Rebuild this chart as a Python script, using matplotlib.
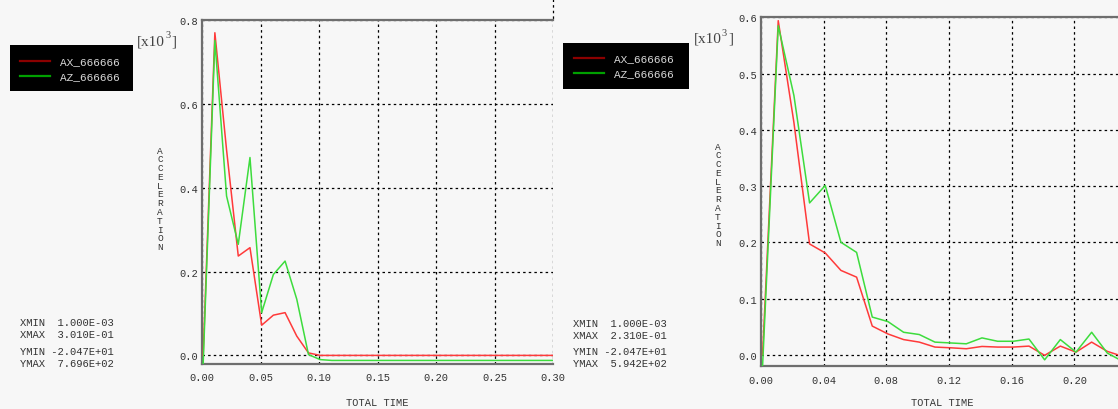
import matplotlib
matplotlib.use("Agg")
import matplotlib.pyplot as plt
from matplotlib.lines import Line2D
from matplotlib.patches import Rectangle

# ---------------- data ----------------
series_names = ["AX_666666", "AZ_666666"]

# Left chart (values in x10^3)
left_time = [0.001 + 0.01 * i for i in range(31)]
left_ax = [0.0, 0.7696, 0.49, 0.237, 0.257, 0.072, 0.096, 0.102, 0.046, 0.006,
           0.0, 0.0, 0.0, 0.0, 0.0, 0.0, 0.0, 0.0, 0.0, 0.0,
           0.0, 0.0, 0.0, 0.0, 0.0, 0.0, 0.0, 0.0, 0.0, 0.0, 0.0]
left_az = [-0.0205, 0.751, 0.380, 0.265, 0.472, 0.102, 0.193, 0.225, 0.134, 0.002,
           -0.010, -0.012, -0.012, -0.012, -0.012, -0.012, -0.012, -0.012, -0.012, -0.012,
           -0.012, -0.012, -0.012, -0.012, -0.012, -0.012, -0.012, -0.012, -0.012, -0.012, -0.012]
left_xticks = [0.00, 0.05, 0.10, 0.15, 0.20, 0.25, 0.30]
left_yticks = [0.0, 0.2, 0.4, 0.6, 0.8]
left_info = ["XMIN  1.000E-03", "XMAX  3.010E-01", "YMIN -2.047E+01", "YMAX  7.696E+02"]

# Right chart (values in x10^3)
right_time = [0.001 + 0.01 * i for i in range(24)]
right_ax = [0.0, 0.594, 0.413, 0.197, 0.181, 0.150, 0.138, 0.051, 0.037, 0.027,
            0.0225, 0.0137, 0.0124, 0.0107, 0.0148, 0.0137, 0.0137, 0.0154, -0.001, 0.0154,
            0.0047, 0.0225, 0.006, -0.003]
right_az = [-0.0205, 0.585, 0.461, 0.270, 0.301, 0.200, 0.182, 0.067, 0.059, 0.040,
            0.036, 0.0225, 0.021, 0.0195, 0.030, 0.024, 0.024, 0.028, -0.009, 0.027,
            0.0047, 0.040, 0.003, -0.012]
right_xticks = [0.00, 0.04, 0.08, 0.12, 0.16, 0.20]
right_yticks = [0.0, 0.1, 0.2, 0.3, 0.4, 0.5, 0.6]
right_info = ["XMIN  1.000E-03", "XMAX  2.310E-01", "YMIN -2.047E+01", "YMAX  5.942E+02"]

# ---------------- style ----------------
W, H = 1118, 410
BG = "#f7f7f7"
MONO = "Liberation Mono"
TXT = "#333333"
RED_LINE = "#ff3a3a"
GRN_LINE = "#3ddc3d"
RED_LEG = "#8b0000"
GRN_LEG = "#00a000"

fig = plt.figure(figsize=(W / 100, H / 100), dpi=100, facecolor=BG)


def fx(px):
    return px / W


def fy(py):
    return 1 - py / H


def make_panel(rect_px, xlim, ylim, xticks, yticks, xfmt, yfmt, t, ax_vals, az_vals):
    x0, y0, x1, y1 = rect_px
    ax = fig.add_axes([fx(x0), fy(y1), fx(x1) - fx(x0), fy(y0) - fy(y1)])
    ax.set_facecolor(BG)
    ax.plot(t, ax_vals, color=RED_LINE, lw=1.1, zorder=3)
    ax.plot(t, az_vals, color=GRN_LINE, lw=1.1, zorder=3)
    ax.set_xlim(*xlim)
    ax.set_ylim(*ylim)
    ax.set_xticks(xticks)
    ax.set_yticks(yticks)
    ax.set_xticklabels([xfmt.format(v) for v in xticks])
    ax.set_yticklabels([yfmt.format(v) for v in yticks])
    ax.tick_params(length=0, labelsize=7.5, labelcolor=TXT)
    ax.tick_params(axis="x", pad=6)
    ax.tick_params(axis="y", pad=3)
    for lab in ax.get_xticklabels() + ax.get_yticklabels():
        lab.set_fontfamily(MONO)
    ax.grid(True, color="black", lw=0.9, linestyle=(0, (2, 2.5)))
    for s in ["left", "top", "bottom"]:
        ax.spines[s].set_color("#6e6e6e")
        ax.spines[s].set_linewidth(1.6)
    ax.spines["right"].set_visible(False)
    return ax


axL = make_panel((202, 21, 553, 365), (0, 0.30), (-0.0205, 0.8),
                 left_xticks, left_yticks, "{:.2f}", "{:.1f}",
                 left_time, left_ax, left_az)
axR = make_panel((761, 18.3, 1123, 367.3), (0, 0.231), (-0.0205, 0.6),
                 right_xticks, right_yticks, "{:.2f}", "{:.1f}",
                 right_time, right_ax, right_az)

# dashed continuation above left panel's right edge
fig.add_artist(Line2D([fx(553), fx(553)], [fy(0), fy(21)], color="black", lw=0.9,
                      linestyle=(0, (2, 2.5))))


def decorate(leg_box, line_x, line_y, text_x, sci_x, sci_y, acc_x, acc_y0, info_x, info,
             info_ys, title_x, title_y):
    bx0, by0, bx1, by1 = leg_box
    fig.add_artist(Rectangle((fx(bx0), fy(by1)), fx(bx1) - fx(bx0), fy(by0) - fy(by1),
                             transform=fig.transFigure, facecolor="black", edgecolor="none"))
    for name, col, ly in zip(series_names, [RED_LEG, GRN_LEG], line_y):
        fig.add_artist(Line2D([fx(line_x[0]), fx(line_x[1])], [fy(ly), fy(ly)],
                              color=col, lw=1.6))
        fig.text(fx(text_x), fy(ly), name, color="#d8d8d8", family=MONO, fontsize=8,
                 va="center", ha="left")
    # [x10^3]
    fig.text(fx(sci_x), fy(sci_y), "[x10", family="Liberation Serif", fontsize=11,
             color="#444444", va="center", ha="left")
    fig.text(fx(sci_x + 28), fy(sci_y - 6), "3", family="Liberation Serif", fontsize=7.5,
             color="#444444", va="center", ha="left")
    fig.text(fx(sci_x + 34), fy(sci_y), "]", family="Liberation Serif", fontsize=11,
             color="#444444", va="center", ha="left")
    # stacked ACCELERATION
    for i, ch in enumerate("ACCELERATION"):
        fig.text(fx(acc_x), fy(acc_y0 + i * 8.8), ch, family=MONO, fontsize=6.8,
                 color=TXT, va="center", ha="center")
    for s, yy in zip(info, info_ys):
        fig.text(fx(info_x), fy(yy), s, family=MONO, fontsize=7.6, color=TXT,
                 va="center", ha="left")
    fig.text(fx(title_x), fy(title_y), "TOTAL TIME", family=MONO, fontsize=7.5,
             color=TXT, va="center", ha="center")


decorate((10, 46, 133, 92), (20, 50), (62.3, 76.7), 60, 137, 42, 160, 151,
         20, left_info, (323, 335, 352, 364), 377, 403)
decorate((563, 44, 689, 90), (574, 604), (59.3, 74.3), 614, 694, 39, 718, 147,
         573, right_info, (324, 336, 352, 364), 942, 403)

fig.savefig("out.png", dpi=100, facecolor=BG)
